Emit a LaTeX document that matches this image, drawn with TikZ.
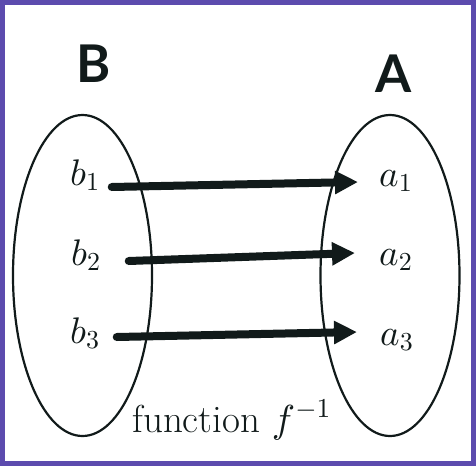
\documentclass[tikz,border=0pt]{standalone}
\usepackage{amsmath}
\usepackage{fontspec}
\newfontfamily\setfont{Lato}
\DeclareFontShape{OML}{cmm}{m}{it}{<->cmmi10}{}
\DeclareFontShape{OMS}{cmsy}{m}{n}{<->cmsy10}{}
\DeclareFontShape{OT1}{cmr}{m}{n}{<->cmr10}{}
\usepackage{tikz}
\usetikzlibrary{shapes.geometric, arrows.meta, positioning}
\definecolor{framepurple}{RGB}{92, 75, 174}
\definecolor{inkdark}{RGB}{17, 26, 26}
\tikzset{
  frameline/.style  = {draw=framepurple, line width=5pt},
  setoval/.style    = {ellipse, draw=inkdark, line width=2.2pt, minimum width=139pt, minimum height=321pt, inner sep=0pt},
  setname/.style    = {font=\setfont\bfseries\fontsize{52}{56}\selectfont, text=inkdark, inner sep=0pt, anchor=base},
  elem/.style       = {font=\fontsize{37}{40}\selectfont, text=inkdark, inner sep=0pt, anchor=base west},
  maparrow/.style   = {-{Triangle[length=23pt, width=22pt]}, line width=8pt, line cap=round, draw=inkdark},
}

\begin{document}
\begin{tikzpicture}[x=1pt, y=-1pt]
\useasboundingbox (0,0) rectangle (476,466);

% ===== 边框 =====
\draw[frameline] (2.5,2.5) rectangle (473.5,463.5);

% ===== 集合 =====
\node[setoval] (setB) at (82.5,275.5) {};
\node[setoval] (setA) at (390,275.5) {};
\node[setname] (nameB) at (94,82) {B};
\node[setname] (nameA) at (393.5,92) {A};

% ===== 元素 =====
\node[elem] (b1) at (70,185) {$b_1$};
\node[elem] (b2) at (71,265) {$b_2$};
\node[elem] (b3) at (70,343) {$b_3$};
\node[elem] (a1) at (379,186) {$a_1$};
\node[elem] (a2) at (379,265) {$a_2$};
\node[elem] (a3) at (380,345) {$a_3$};

% ===== 映射 =====
\draw[maparrow] ([shift={(12pt,-2pt)}]b1.base east) -- ([shift={(-21pt,4pt)}]a1.base west);
\draw[maparrow] ([shift={(28pt,4pt)}]b2.base east) -- ([shift={(-24pt,12pt)}]a2.base west);
\draw[maparrow] ([shift={(17pt,6pt)}]b3.base east) -- ([shift={(-23pt,13pt)}]a3.base west);

% ===== 标题 =====
\node[font=\fontsize{39}{42}\selectfont, text=inkdark, inner sep=0pt, anchor=base] (fname) at (231.5,432) {function $f^{-1}$};

\end{tikzpicture}
\end{document}
